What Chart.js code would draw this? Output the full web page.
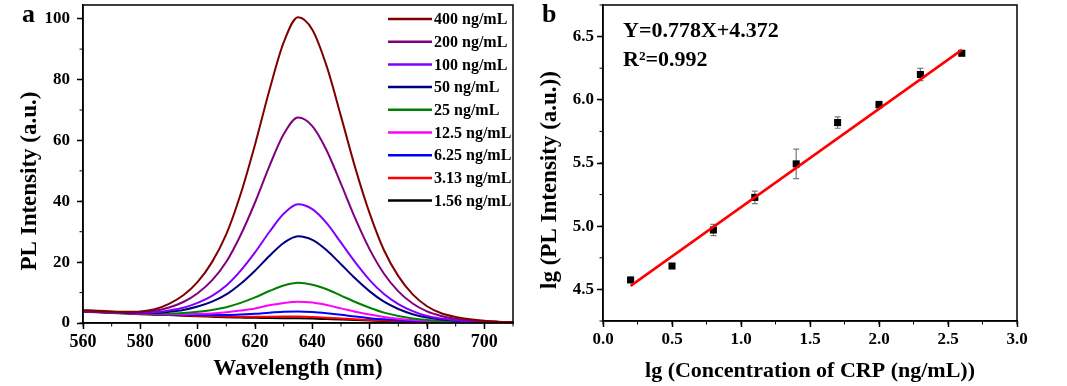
<!DOCTYPE html>
<html>
<head>
<meta charset="utf-8">
<script src="https://cdn.jsdelivr.net/npm/chart.js@4.4.1/dist/chart.umd.min.js"></script>
<style>
  html, body { margin: 0; padding: 0; background: #fff; }
  #wrap { position: relative; width: 1067px; height: 386px; }
  #specChart { position: absolute; left: 0; top: 0; }
  #fitChart { position: absolute; left: 520px; top: 0; }
</style>
</head>
<body>
<div id="wrap">
  <canvas id="specChart" width="520" height="386"></canvas>
  <canvas id="fitChart" width="547" height="386"></canvas>
</div>
<script>
// Panel a: PL spectra (every 5 nm)
const wavelength = [560,565,570,575,580,585,590,595,600,605,610,615,620,625,630,635,640,645,650,655,660,665,670,675,680,685,690,695,700,705,710];
const pl400 = [4.3,4.0,3.8,3.7,3.8,4.5,6.3,9.1,13.5,20.0,29.2,42.4,58.6,76.4,92.2,100.5,96.4,84.4,67.9,50.9,36.0,23.9,15.4,9.4,5.5,3.2,2.0,1.2,0.7,0.45,0.3];
const pl200 = [4.0,3.7,3.7,3.6,3.6,4.0,5.1,6.9,9.8,14.0,20.1,28.9,39.6,51.5,62.0,67.5,64.7,56.7,45.7,34.3,24.2,16.2,10.4,6.4,3.8,2.3,1.4,0.9,0.5,0.35,0.25];
const pl100 = [3.9,3.7,3.6,3.5,3.4,3.5,4.1,5.0,6.6,8.9,12.3,17.2,23.2,29.9,35.9,39.0,37.4,32.8,26.4,19.9,14.1,9.5,6.2,3.9,2.3,1.45,0.94,0.63,0.39,0.26,0.18];
const pl50 = [3.9,3.7,3.6,3.4,3.3,3.3,3.7,4.3,5.4,7.0,9.4,12.9,17.2,22.0,26.3,28.5,27.3,23.9,19.3,14.6,10.4,7.0,4.6,2.9,1.8,1.14,0.76,0.52,0.34,0.23,0.15];
const pl25 = [3.9,3.7,3.5,3.35,3.2,3.1,3.1,3.3,3.7,4.3,5.2,6.6,8.4,10.5,12.3,13.2,12.6,11.1,9.0,6.9,5.0,3.4,2.3,1.5,1.0,0.7,0.5,0.37,0.26,0.19,0.12];
const pl12 = [3.9,3.7,3.5,3.3,3.1,3.0,2.9,2.9,3.0,3.1,3.5,4.1,4.8,5.8,6.6,7.0,6.7,5.9,4.8,3.7,2.8,2.0,1.4,0.97,0.7,0.52,0.4,0.31,0.23,0.17,0.11];
const pl6 = [3.9,3.7,3.5,3.3,3.1,2.9,2.8,2.7,2.6,2.6,2.6,2.8,3.0,3.4,3.7,3.8,3.6,3.2,2.7,2.1,1.6,1.2,0.9,0.68,0.53,0.43,0.34,0.27,0.21,0.16,0.1];
const pl3 = [3.8,3.6,3.4,3.2,3.0,2.85,2.7,2.55,2.4,2.26,2.15,2.07,2.02,2.08,2.12,2.1,1.96,1.76,1.51,1.25,1.02,0.81,0.64,0.53,0.45,0.38,0.32,0.26,0.2,0.15,0.1];
const pl1 = [3.7,3.5,3.3,3.1,2.9,2.75,2.6,2.4,2.2,2.05,1.9,1.8,1.7,1.65,1.6,1.55,1.45,1.3,1.15,0.98,0.82,0.68,0.56,0.48,0.42,0.36,0.3,0.25,0.2,0.15,0.1];
const concLabels = ["400 ng/mL","200 ng/mL","100 ng/mL","50 ng/mL","25 ng/mL","12.5 ng/mL","6.25 ng/mL","3.13 ng/mL","1.56 ng/mL"];
const spectra = [pl400, pl200, pl100, pl50, pl25, pl12, pl6, pl3, pl1];
const specXTicks = [560,580,600,620,640,660,680,700];
const specYTicks = [0,20,40,60,80,100];

// Panel b: calibration
const lgConc = [0.2,0.5,0.8,1.1,1.4,1.7,2.0,2.3,2.6];
const lgPL = [4.575,4.685,4.97,5.228,5.493,5.82,5.962,6.2,6.368];
const lgErr = [0.01,0.01,0.045,0.05,0.116,0.045,0.026,0.048,0.015];
const fitX = [0.2, 2.6];
const fitY = [4.528, 6.395];
const fitXTicks = [0,0.5,1.0,1.5,2.0,2.5,3.0];
const fitYTicks = [4.5,5.0,5.5,6.0,6.5];

const lineColors = ["#800000","#800080","#8000FF","#000080","#008000","#FF00FF","#0000FF","#FF0000","#000000"];
const SERIF = "'Times New Roman', 'Liberation Serif', serif";

// box round the plot + short minor ticks
const frameTicks = {
  id: "frameTicks",
  afterDraw(chart, args, opts) {
    const ctx = chart.ctx;
    const a = chart.chartArea;
    const xs = chart.scales.x, ys = chart.scales.y;
    ctx.save();
    ctx.strokeStyle = "#000";
    ctx.lineWidth = 1.5;
    ctx.strokeRect(a.left, a.top, a.right - a.left, a.bottom - a.top);
    ctx.lineWidth = 1;
    ctx.beginPath();
    for (let v = Math.ceil(xs.min / opts.xMinor - 1e-9) * opts.xMinor; v <= xs.max + 1e-9; v += opts.xMinor) {
      const px = xs.getPixelForValue(v);
      ctx.moveTo(px, a.bottom);
      ctx.lineTo(px, a.bottom + 3.5);
    }
    for (let v = Math.ceil(ys.min / opts.yMinor - 1e-9) * opts.yMinor; v <= ys.max + 1e-9; v += opts.yMinor) {
      const py = ys.getPixelForValue(v);
      ctx.moveTo(a.left, py);
      ctx.lineTo(a.left - 3.5, py);
    }
    ctx.stroke();
    ctx.restore();
  }
};

// free text: panel letters, y titles, equation
const panelText = {
  id: "panelText",
  afterDraw(chart, args, opts) {
    const ctx = chart.ctx;
    ctx.save();
    ctx.fillStyle = "#000";
    opts.items.forEach(t => {
      ctx.save();
      ctx.font = "bold " + t.size + "px " + SERIF;
      ctx.translate(t.x, t.y);
      if (t.rotate) ctx.rotate(-Math.PI / 2);
      ctx.textAlign = t.align || "left";
      ctx.textBaseline = t.baseline || "alphabetic";
      ctx.fillText(t.text, 0, 0);
      ctx.restore();
    });
    ctx.restore();
  }
};

// legend drawn inside panel a
const specLegend = {
  id: "specLegend",
  afterDraw(chart) {
    const ctx = chart.ctx;
    ctx.save();
    ctx.font = "bold 16px " + SERIF;
    ctx.textBaseline = "middle";
    chart.data.datasets.forEach((ds, i) => {
      const y = 19 + i * 22.7;
      ctx.strokeStyle = ds.borderColor;
      ctx.lineWidth = 2.5;
      ctx.beginPath();
      ctx.moveTo(388, y);
      ctx.lineTo(432, y);
      ctx.stroke();
      ctx.fillStyle = "#000";
      ctx.fillText(ds.label, 434, y + 1);
    });
    ctx.restore();
  }
};

// error bars under the markers
const errorBars = {
  id: "errorBars",
  beforeDatasetsDraw(chart) {
    const ctx = chart.ctx;
    const xs = chart.scales.x, ys = chart.scales.y;
    ctx.save();
    ctx.strokeStyle = "#7a7a7a";
    ctx.lineWidth = 1.2;
    lgConc.forEach((c, i) => {
      const px = xs.getPixelForValue(c);
      const top = ys.getPixelForValue(lgPL[i] + lgErr[i]);
      const bot = ys.getPixelForValue(lgPL[i] - lgErr[i]);
      ctx.beginPath();
      ctx.moveTo(px, top); ctx.lineTo(px, bot);
      ctx.moveTo(px - 3, top); ctx.lineTo(px + 3, top);
      ctx.moveTo(px - 3, bot); ctx.lineTo(px + 3, bot);
      ctx.stroke();
    });
    ctx.restore();
  }
};

function axisStyle(size) {
  return {
    grid: { drawOnChartArea: false, drawTicks: true, tickLength: 6, tickColor: "#000", tickWidth: 1.5 },
    border: { color: "#000", width: 1.5 },
    ticks: { color: "#000", font: { family: SERIF, size: size, weight: "bold" } }
  };
}

// fixed box sizes, no label overhang padding
function fixSize(w, h) {
  return s => {
    if (w) s.width = w;
    if (h) s.height = h;
    s.paddingTop = 0; s.paddingBottom = 0; s.paddingLeft = 0; s.paddingRight = 0;
  };
}
function useTicks(vals) {
  return s => { s.ticks = vals.map(v => ({ value: v })); };
}

const lx = axisStyle(18), ly = axisStyle(17);
new Chart(document.getElementById("specChart"), {
  type: "line",
  data: {
    datasets: spectra.map((arr, i) => ({
      label: concLabels[i],
      data: wavelength.map((w, j) => ({ x: w, y: arr[j] })),
      borderColor: lineColors[i],
      borderWidth: 2,
      pointRadius: 0,
      cubicInterpolationMode: "monotone",
      fill: false
    }))
  },
  options: {
    responsive: false,
    animation: false,
    layout: { padding: { top: 5, right: 7, left: 0, bottom: 0 } },
    plugins: {
      legend: { display: false },
      tooltip: { enabled: false },
      frameTicks: { xMinor: 10, yMinor: 10 },
      panelText: { items: [
        { text: "a", x: 22, y: 22, size: 26 },
        { text: "PL Intensity (a.u.)", x: 30, y: 181, size: 23, rotate: true, align: "center", baseline: "middle" }
      ] }
    },
    scales: {
      x: {
        type: "linear", min: 560, max: 710,
        afterBuildTicks: useTicks(specXTicks),
        afterFit: fixSize(0, 63),
        grid: lx.grid, border: lx.border,
        ticks: Object.assign({ padding: 3 }, lx.ticks),
        title: { display: true, text: "Wavelength (nm)", color: "#000",
          font: { family: SERIF, size: 23, weight: "bold" }, padding: { top: 0, bottom: 3 } }
      },
      y: {
        min: 0, max: 104.5,
        afterBuildTicks: useTicks(specYTicks),
        afterFit: fixSize(83, 0),
        grid: ly.grid, border: ly.border,
        ticks: Object.assign({ padding: 7 }, ly.ticks)
      }
    }
  },
  plugins: [frameTicks, specLegend, panelText]
});

const rx = axisStyle(17), ry = axisStyle(17);
new Chart(document.getElementById("fitChart"), {
  type: "scatter",
  data: {
    datasets: [
      {
        label: "fit",
        data: fitX.map((x, i) => ({ x: x, y: fitY[i] })),
        showLine: true,
        borderColor: "#FF0000",
        borderWidth: 2.5,
        pointRadius: 0
      },
      {
        label: "data",
        data: lgConc.map((x, i) => ({ x: x, y: lgPL[i] })),
        pointStyle: "rect",
        pointRadius: 5,
        backgroundColor: "#000",
        borderColor: "#000",
        borderWidth: 0
      }
    ]
  },
  options: {
    responsive: false,
    animation: false,
    layout: { padding: { top: 5, right: 50, left: 0, bottom: 0 } },
    plugins: {
      legend: { display: false },
      tooltip: { enabled: false },
      frameTicks: { xMinor: 0.25, yMinor: 0.25 },
      panelText: { items: [
        { text: "b", x: 22, y: 22, size: 26 },
        { text: "Y=0.778X+4.372", x: 103, y: 37, size: 22 },
        { text: "R\u00B2=0.992", x: 103, y: 66, size: 22 },
        { text: "lg (PL Intensity (a.u.))", x: 30, y: 180, size: 23, rotate: true, align: "center", baseline: "middle" }
      ] }
    },
    scales: {
      x: {
        type: "linear", min: 0, max: 3,
        afterBuildTicks: useTicks(fitXTicks),
        afterFit: fixSize(0, 65),
        grid: rx.grid, border: rx.border,
        ticks: Object.assign({ padding: 2, callback: v => Number(v).toFixed(1) }, rx.ticks),
        title: { display: true, text: "lg (Concentration of CRP (ng/mL))", color: "#000",
          font: { family: SERIF, size: 22, weight: "bold" }, padding: { top: 0, bottom: 1 } }
      },
      y: {
        min: 4.25, max: 6.75,
        afterBuildTicks: useTicks(fitYTicks),
        afterFit: fixSize(83, 0),
        grid: ry.grid, border: ry.border,
        ticks: Object.assign({ padding: 3, callback: v => Number(v).toFixed(1) }, ry.ticks)
      }
    }
  },
  plugins: [errorBars, frameTicks, panelText]
});
</script>
</body>
</html>
